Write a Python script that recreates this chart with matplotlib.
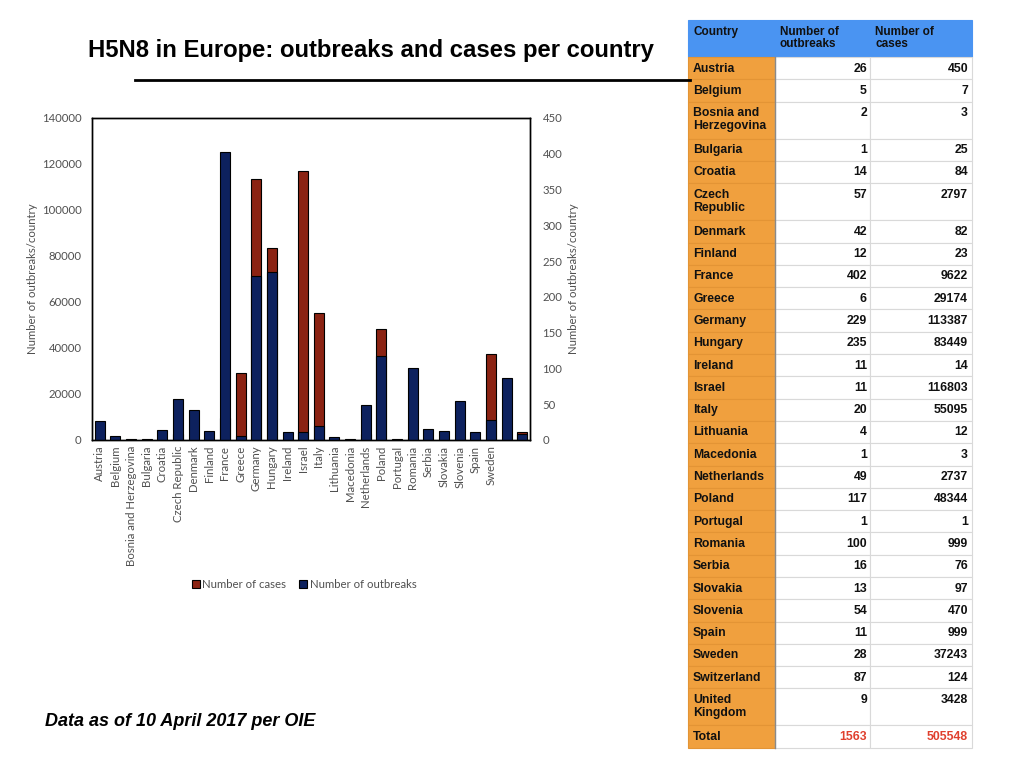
import matplotlib.pyplot as plt
import numpy as np
from matplotlib.patches import Rectangle

# Data as of 10 April 2017 per OIE
countries = ['Austria', 'Belgium', 'Bosnia and Herzegovina', 'Bulgaria', 'Croatia',
             'Czech Republic', 'Denmark', 'Finland', 'France', 'Greece', 'Germany',
             'Hungary', 'Ireland', 'Israel', 'Italy', 'Lithuania', 'Macedonia',
             'Netherlands', 'Poland', 'Portugal', 'Romania', 'Serbia', 'Slovakia',
             'Slovenia', 'Spain', 'Sweden', 'Switzerland', 'United Kingdom']
table_names = ['Austria', 'Belgium', 'Bosnia and\nHerzegovina', 'Bulgaria', 'Croatia',
               'Czech\nRepublic', 'Denmark', 'Finland', 'France', 'Greece', 'Germany',
               'Hungary', 'Ireland', 'Israel', 'Italy', 'Lithuania', 'Macedonia',
               'Netherlands', 'Poland', 'Portugal', 'Romania', 'Serbia', 'Slovakia',
               'Slovenia', 'Spain', 'Sweden', 'Switzerland', 'United\nKingdom']
outbreaks = [26, 5, 2, 1, 14, 57, 42, 12, 402, 6, 229, 235, 11, 11, 20, 4, 1,
             49, 117, 1, 100, 16, 13, 54, 11, 28, 87, 9]
cases = [450, 7, 3, 25, 84, 2797, 82, 23, 9622, 29174, 113387, 83449, 14, 116803,
         55095, 12, 3, 2737, 48344, 1, 999, 76, 97, 470, 999, 37243, 124, 3428]
# the chart leaves the last two category labels out
chart_labels = countries[:26] + ['', '']
total_outbreaks = 1563
total_cases = 505548

red = '#8b2313'
navy = '#0d215e'
grey = '#505050'
chart_font = ['Lato', 'DejaVu Sans']
tab_font = ['Liberation Sans', 'DejaVu Sans']
csize = 8.2

fig = plt.figure(figsize=(10.24, 7.68), dpi=100)

# =========================================================================
# bar chart: cases on left axis, outbreaks on right axis
ax = fig.add_axes([92/1024, 1 - 440/768, 438/1024, 322/768])
x = np.arange(len(countries))
w = 0.64
ax.bar(x, cases, w, color=red, edgecolor='black', linewidth=0.8, label='Number of cases')
ax.set_ylim(0, 140000)
ax.set_yticks(np.arange(0, 140001, 20000))
ax.set_xlim(-0.5, len(countries) - 0.5)
ax.set_xticks(x)
ax.set_xticklabels(chart_labels, rotation=90, fontsize=csize, color=grey, family=chart_font)
ax.tick_params(axis='y', length=0, pad=7.5)
ax.tick_params(axis='x', length=0, pad=4)
for t in ax.get_yticklabels():
    t.set_family(chart_font)
    t.set_fontsize(csize)
    t.set_color(grey)
ax.set_ylabel('Number of outbreaks/country', fontsize=csize, color=grey, family=chart_font)
ax.yaxis.set_label_coords(-0.123, 0.5)

ax2 = ax.twinx()
ax2.bar(x, outbreaks, w, color=navy, edgecolor='black', linewidth=0.8, label='Number of outbreaks')
ax2.set_ylim(0, 450)
ax2.set_yticks(np.arange(0, 451, 50))
ax2.tick_params(length=0, pad=9)
for t in ax2.get_yticklabels():
    t.set_family(chart_font)
    t.set_fontsize(csize)
    t.set_color(grey)
ax2.set_ylabel('Number of outbreaks/country', fontsize=csize, color=grey, family=chart_font)
ax2.yaxis.set_label_coords(1.087, 0.5)

for a in (ax, ax2):
    for s in a.spines.values():
        s.set_linewidth(1.0)
        s.set_color('black')

h1, l1 = ax.get_legend_handles_labels()
h2, l2 = ax2.get_legend_handles_labels()
fig.legend(h1 + h2, l1 + l2, loc='center', bbox_to_anchor=(304/1024, 1 - 584/768), ncol=2,
           frameon=False, handlelength=0.7, handleheight=0.7, handletextpad=0.2,
           columnspacing=1.2, prop={'family': chart_font, 'size': csize}, labelcolor=grey)

# =========================================================================
# title, rule and footnote
fig.text(88/1024, 1 - 50/768, 'H5N8 in Europe: outbreaks and cases per country',
         fontsize=17.2, fontweight='bold', family=tab_font, va='center', ha='left')
fig.text(45/1024, 1 - 721/768, 'Data as of 10 April 2017 per OIE',
         fontsize=13, fontweight='bold', style='italic', family=tab_font, va='center', ha='left')

ov = fig.add_axes([0, 0, 1, 1], zorder=5)
ov.set_xlim(0, 1024)
ov.set_ylim(768, 0)
ov.axis('off')
ov.plot([135, 690], [80, 80], color='black', linewidth=2)

# =========================================================================
# table on the right
c0, c1, c2, c3 = 688, 775, 870, 972
blue = '#4a94f2'
orange = '#f0a03e'
line = '#d9d9d9'
tsize = 8.8

def cell(x0, y0, x1, y1, fc, ec):
    ov.add_patch(Rectangle((x0, y0), x1 - x0, y1 - y0, facecolor=fc, edgecolor=ec, linewidth=0.8))

y = 20
hh = 37
cell(c0, y, c3, y + hh, blue, blue)
for cx, txt in [(c0, 'Country'), (c1, 'Number of\noutbreaks'), (c2, 'Number of\ncases')]:
    ov.text(cx + 5, y + 6, txt, fontsize=tsize - 0.3, fontweight='bold', family=tab_font,
            va='top', ha='left', color='#111111', linespacing=1.0)
y += hh

rows_name = table_names + ['Total']
rows_out = outbreaks + [total_outbreaks]
rows_cas = cases + [total_cases]
for i, name in enumerate(rows_name):
    h = 37 if '\n' in name else 22.3
    cell(c0, y, c1, y + h, orange, '#e39435')
    cell(c1, y, c2, y + h, 'white', line)
    cell(c2, y, c3, y + h, 'white', line)
    col = '#e0402e' if name == 'Total' else '#111111'
    ov.text(c0 + 5, y + 5.5, name, fontsize=tsize, fontweight='bold', family=tab_font,
            va='top', ha='left', color='#111111', linespacing=1.1)
    ov.text(c2 - 3, y + 5.5, str(rows_out[i]), fontsize=tsize, fontweight='bold', family=tab_font,
            va='top', ha='right', color=col)
    ov.text(c3 - 4, y + 5.5, str(rows_cas[i]), fontsize=tsize, fontweight='bold', family=tab_font,
            va='top', ha='right', color=col)
    y += h
ov.plot([c1, c1], [20 + hh, y], color='#8a8a8a', linewidth=1)

fig.savefig('out.png', dpi=100)
